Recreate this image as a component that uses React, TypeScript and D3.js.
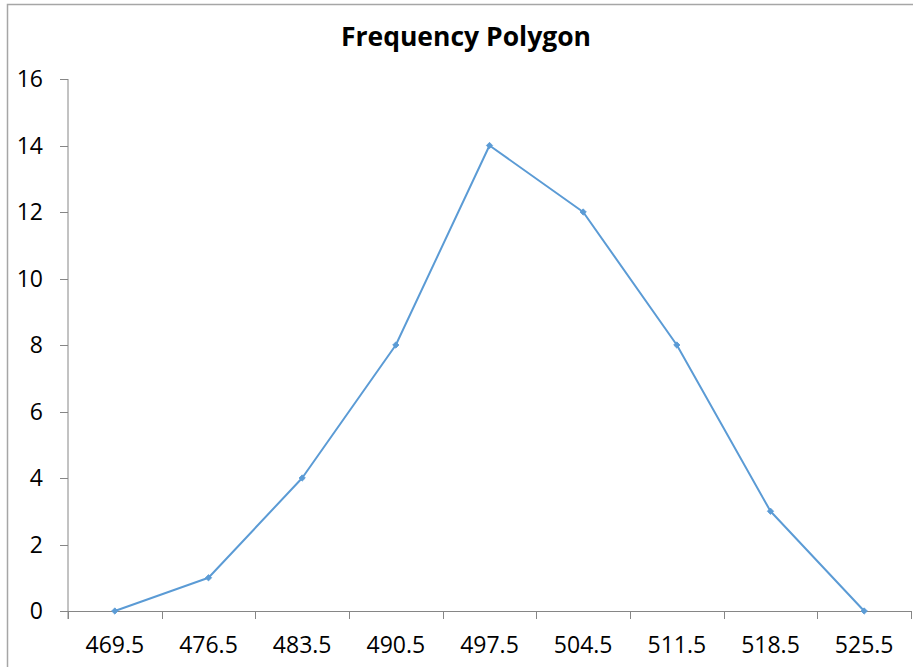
import React from "react";
import * as d3 from "d3";

const categories = ["469.5", "476.5", "483.5", "490.5", "497.5", "504.5", "511.5", "518.5", "525.5"];
const frequencies = [0, 1, 4, 8, 14, 12, 8, 3, 0];
const yTicks = [0, 2, 4, 6, 8, 10, 12, 14, 16];
const title = "Frequency Polygon";

export default function App() {
  const W = 913, H = 667;
  const left = 68, right = 911, top = 79, bottom = 611;
  const x = d3.scaleBand<string>().domain(categories).range([left, right]).padding(0);
  const y = d3.scaleLinear().domain([0, 16]).range([bottom, top]);
  const cx = (c: string) => (x(c) ?? 0) + x.bandwidth() / 2;
  const pts: [number, number][] = categories.map((c, i) => [cx(c), y(frequencies[i])]);
  const line = d3.line()(pts) ?? "";
  const diamond = d3.symbol().type(d3.symbolSquare).size(20)() ?? "";
  const axisColor = "#868686";
  const font = "'Open Sans', 'Noto Sans', sans-serif";
  const boundaries = categories.map((c) => x(c) ?? 0).concat([right]);

  return (
    <svg width={W} height={H} style={{ position: "absolute", left: 0, top: 0, background: "#fff" }}>
      <rect x={0} y={0} width={W} height={H} fill="#fff" />
      <path d={`M7.5,${H + 2} L7.5,4.5 L${W + 2},4.5`} fill="none" stroke="#a6a6a6" strokeWidth={1.5} />
      <text x={466} y={46} textAnchor="middle" fontFamily={font} fontWeight="bold" fontSize={26.5} fill="#000">
        {title}
      </text>
      {/* y axis */}
      <line x1={left} x2={left} y1={top} y2={bottom + 8} stroke={axisColor} strokeWidth={1} />
      {yTicks.map((t) => (
        <g key={t}>
          <line x1={left - 8} x2={left} y1={Math.round(y(t)) + 0.5} y2={Math.round(y(t)) + 0.5} stroke={axisColor} strokeWidth={1} />
          <text x={43} y={y(t) + 8} textAnchor="end" fontFamily={font} fontSize={23} fill="#000">
            {t}
          </text>
        </g>
      ))}
      {/* x axis */}
      <line x1={left - 8} x2={right} y1={bottom + 0.5} y2={bottom + 0.5} stroke={axisColor} strokeWidth={1} />
      {boundaries.map((b, i) => (
        <line key={i} x1={Math.round(b) + 0.5} x2={Math.round(b) + 0.5} y1={bottom} y2={bottom + 8} stroke={axisColor} strokeWidth={1} />
      ))}
      {categories.map((c) => (
        <text key={c} x={cx(c)} y={653} textAnchor="middle" fontFamily={font} fontSize={23} fill="#000">
          {c}
        </text>
      ))}
      <path d={line} fill="none" stroke="#5b9bd5" strokeWidth={2} strokeLinejoin="round" />
      {pts.map((p, i) => (
        <path key={i} d={diamond} transform={`translate(${p[0]},${p[1]}) rotate(45)`} fill="#5b9bd5" stroke="#5b9bd5" strokeWidth={0.75} />
      ))}
    </svg>
  );
}
